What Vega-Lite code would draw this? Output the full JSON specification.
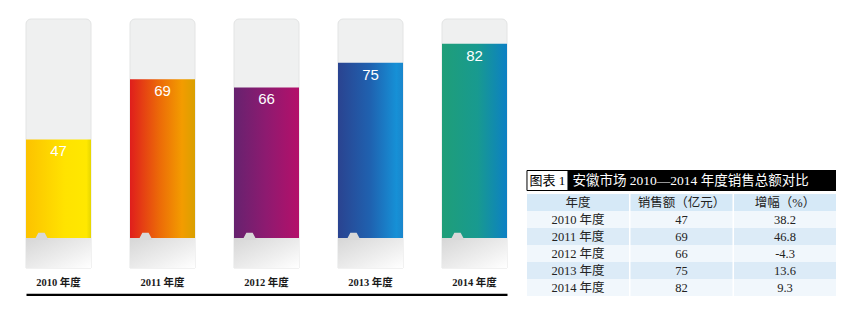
{
  "$schema": "https://vega.github.io/schema/vega-lite/v6.json",
  "background": "white",
  "padding": {"left": 25, "top": 18, "right": 0, "bottom": 0},
  "spacing": 18,
  "config": {"view": {"stroke": null}},
  "datasets": {
    "sales": [
      {"年度": "2010 年度", "销售额": 47, "增幅": 38.2},
      {"年度": "2011 年度", "销售额": 69, "增幅": 46.8},
      {"年度": "2012 年度", "销售额": 66, "增幅": -4.3},
      {"年度": "2013 年度", "销售额": 75, "增幅": 13.6},
      {"年度": "2014 年度", "销售额": 82, "增幅": 9.3}
    ]
  },
  "hconcat": [
    {
      "width": 481,
      "height": 249,
      "data": {"name": "sales"},
      "encoding": {
        "x": {
          "field": "年度",
          "type": "nominal",
          "sort": null,
          "scale": {"paddingInner": 0.375, "paddingOuter": 0},
          "axis": {
            "title": null,
            "labelAngle": 0,
            "ticks": false,
            "domainColor": "black",
            "domainWidth": 3.5,
            "offset": 27,
            "labelPadding": -18,
            "labelBaseline": "top",
            "labelFont": "Liberation Serif, Noto Sans CJK SC",
            "labelFontSize": 10.5,
            "labelFontWeight": "bold",
            "labelColor": "#1a1a1a"
          }
        }
      },
      "layer": [
        {
          "mark": {"type": "bar", "color": "#eff0f0", "stroke": "#e3e4e4", "strokeWidth": 1, "cornerRadiusTopLeft": 5, "cornerRadiusTopRight": 5},
          "encoding": {"y": {"datum": 91, "type": "quantitative", "scale": {"domain": [0, 91], "nice": false, "zero": true}, "axis": null}}
        },
        {
          "transform": [{"filter": {"field": "年度", "equal": "2010 年度"}}],
          "mark": {"type": "bar", "color": {"gradient": "linear", "x1": 0, "y1": 0, "x2": 1, "y2": 0, "stops": [{"offset": 0, "color": "#fcc200"}, {"offset": 0.6, "color": "#ffe300"}, {"offset": 0.93, "color": "#ffe800"}, {"offset": 1, "color": "#e6d600"}]}},
          "encoding": {"y": {"field": "销售额", "type": "quantitative", "axis": null}}
        },
        {
          "transform": [{"filter": {"field": "年度", "equal": "2011 年度"}}],
          "mark": {"type": "bar", "color": {"gradient": "linear", "x1": 0, "y1": 0, "x2": 1, "y2": 0, "stops": [{"offset": 0, "color": "#e01e1c"}, {"offset": 0.45, "color": "#ec6a08"}, {"offset": 0.8, "color": "#f39c00"}, {"offset": 1, "color": "#d9a000"}]}},
          "encoding": {"y": {"field": "销售额", "type": "quantitative", "axis": null}}
        },
        {
          "transform": [{"filter": {"field": "年度", "equal": "2012 年度"}}],
          "mark": {"type": "bar", "color": {"gradient": "linear", "x1": 0, "y1": 0, "x2": 1, "y2": 0, "stops": [{"offset": 0, "color": "#66226f"}, {"offset": 0.5, "color": "#8e1a70"}, {"offset": 1, "color": "#b4106a"}]}},
          "encoding": {"y": {"field": "销售额", "type": "quantitative", "axis": null}}
        },
        {
          "transform": [{"filter": {"field": "年度", "equal": "2013 年度"}}],
          "mark": {"type": "bar", "color": {"gradient": "linear", "x1": 0, "y1": 0, "x2": 1, "y2": 0, "stops": [{"offset": 0, "color": "#2a4390"}, {"offset": 0.5, "color": "#1f62b0"}, {"offset": 0.9, "color": "#1690d6"}, {"offset": 1, "color": "#1a86cc"}]}},
          "encoding": {"y": {"field": "销售额", "type": "quantitative", "axis": null}}
        },
        {
          "transform": [{"filter": {"field": "年度", "equal": "2014 年度"}}],
          "mark": {"type": "bar", "color": {"gradient": "linear", "x1": 0, "y1": 0, "x2": 1, "y2": 0, "stops": [{"offset": 0, "color": "#1f9e78"}, {"offset": 0.55, "color": "#189a90"}, {"offset": 1, "color": "#0c80c4"}]}},
          "encoding": {"y": {"field": "销售额", "type": "quantitative", "axis": null}}
        },
        {
          "mark": {"type": "bar", "color": {"gradient": "linear", "x1": 0, "y1": 0, "x2": 1, "y2": 1, "stops": [{"offset": 0, "color": "#d6d6d6"}, {"offset": 0.6, "color": "#eeeeee"}, {"offset": 1, "color": "#ffffff"}]}},
          "encoding": {"y": {"datum": 11, "type": "quantitative", "axis": null}}
        },
        {
          "mark": {"type": "point", "shape": "M -1 0.3 L -0.45 -0.75 L 0.45 -0.75 L 1 0.3 Z", "filled": true, "color": "#d8d8d8", "opacity": 1, "size": 196, "xOffset": -17, "strokeWidth": 0},
          "encoding": {"y": {"datum": 11, "type": "quantitative", "axis": null}}
        },
        {
          "mark": {"type": "text", "color": "white", "fontSize": 15, "font": "Liberation Sans", "baseline": "middle", "dy": 12},
          "encoding": {
            "y": {"field": "销售额", "type": "quantitative", "axis": null},
            "text": {"field": "销售额", "type": "nominal"}
          }
        }
      ]
    },
    {
      "width": 309,
      "height": 277,
      "data": {"name": "sales"},
      "encoding": {
        "y": {
          "type": "nominal",
          "scale": {"domain": ["title", "header", "2010 年度", "2011 年度", "2012 年度", "2013 年度", "2014 年度"], "range": [158, 277], "paddingInner": 0, "paddingOuter": 0},
          "axis": null
        }
      },
      "layer": [
        {
          "data": {"values": [{"key": "年度", "label": "年度"}, {"key": "销售额", "label": "销售额（亿元）"}, {"key": "增幅", "label": "增幅（%）"}]},
          "mark": {"type": "rect", "color": "#d6e9f7"},
          "encoding": {
            "x": {"field": "key", "type": "nominal", "scale": {"domain": ["年度", "销售额", "增幅"], "paddingInner": 0.015, "paddingOuter": 0}, "axis": null},
            "y": {"datum": "header", "type": "nominal"}
          }
        },
        {
          "transform": [{"fold": ["年度", "销售额", "增幅"]}],
          "mark": {"type": "rect"},
          "encoding": {
            "x": {"field": "key", "type": "nominal"},
            "y": {"field": "年度", "type": "nominal"},
            "color": {"condition": {"test": "datum['年度'] === '2011 年度' || datum['年度'] === '2013 年度'", "value": "#dcebf7"}, "value": "#f1f7fc"}
          }
        },
        {
          "data": {"values": [{}]},
          "mark": {"type": "rect", "color": "black", "height": 21, "yOffset": -5},
          "encoding": {"y": {"datum": "title", "type": "nominal"}}
        },
        {
          "data": {"values": [{}]},
          "mark": {"type": "rect", "color": "white", "stroke": "black", "strokeWidth": 1, "width": 41, "height": 20, "xOffset": -30.5, "yOffset": -5},
          "encoding": {"x": {"datum": "年度", "type": "nominal"}, "y": {"datum": "title", "type": "nominal"}}
        },
        {
          "data": {"values": [{"t": "图表 1"}]},
          "mark": {"type": "text", "color": "black", "fontSize": 13, "font": "Liberation Serif, Noto Sans CJK SC", "dx": -30.5, "dy": -5, "baseline": "middle"},
          "encoding": {"x": {"datum": "年度", "type": "nominal"}, "y": {"datum": "title", "type": "nominal"}, "text": {"field": "t"}}
        },
        {
          "data": {"values": [{"t": "安徽市场 2010—2014 年度销售总额对比"}]},
          "mark": {"type": "text", "color": "white", "fontSize": 13.5, "font": "Liberation Serif, Noto Sans CJK SC", "align": "left", "dx": -5.5, "dy": -5, "baseline": "middle"},
          "encoding": {"x": {"datum": "年度", "type": "nominal"}, "y": {"datum": "title", "type": "nominal"}, "text": {"field": "t"}}
        },
        {
          "data": {"values": [{"key": "年度", "label": "年度"}, {"key": "销售额", "label": "销售额（亿元）"}, {"key": "增幅", "label": "增幅（%）"}]},
          "mark": {"type": "text", "color": "#222", "fontSize": 12.5, "font": "Liberation Serif, Noto Sans CJK SC", "baseline": "middle"},
          "encoding": {"x": {"field": "key", "type": "nominal"}, "y": {"datum": "header", "type": "nominal"}, "text": {"field": "label"}}
        },
        {
          "transform": [{"fold": ["年度", "销售额", "增幅"]}],
          "mark": {"type": "text", "color": "#222", "fontSize": 12.5, "font": "Liberation Serif, Noto Sans CJK SC", "baseline": "middle"},
          "encoding": {"x": {"field": "key", "type": "nominal"}, "y": {"field": "年度", "type": "nominal"}, "text": {"field": "value", "type": "nominal"}}
        }
      ]
    }
  ]
}
